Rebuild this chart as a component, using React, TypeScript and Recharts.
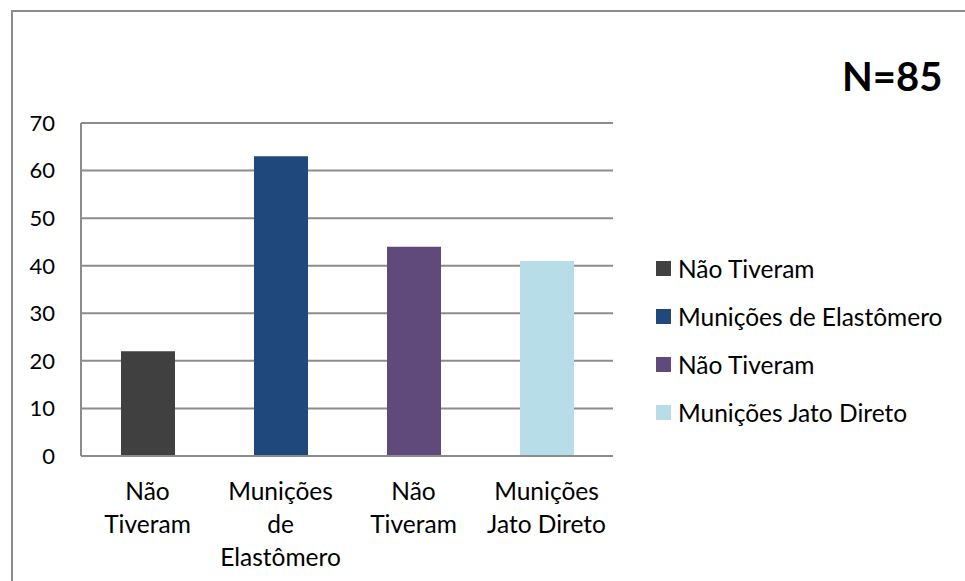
import React from "react";
import { BarChart, Bar, XAxis, YAxis, CartesianGrid, Legend, Cell } from "recharts";

const categories = ["Não Tiveram", "Munições de Elastômero", "Não Tiveram", "Munições Jato Direto"];
const values = [22, 63, 44, 41];
const barColors = ["#404040", "#1F497D", "#604A7B", "#B7DEE8"];
// wrapped x tick labels, one list of lines per category
const tickLines = [["Não", "Tiveram"], ["Munições", "de", "Elastômero"], ["Não", "Tiveram"], ["Munições", "Jato Direto"]];
const yTicks = [0, 10, 20, 30, 40, 50, 60, 70];
const title = "N=85";

const data = categories.map((name, i) => ({ name, value: values[i] }));

const FONT = "Lato, 'Noto Sans', sans-serif";
const GRID = "#8c8c8c";

const XTick = (props: any) => {
  const { x, y, payload } = props;
  const lines = tickLines[payload.index] || [payload.value];
  return (
    <g transform={`translate(${x},${y})`}>
      {lines.map((l: string, i: number) => (
        <text key={i} x={0} y={44 + i * 33} textAnchor="middle" fill="#000" fontSize={24.5} fontFamily={FONT}>
          {l}
        </text>
      ))}
    </g>
  );
};

const LegendBox = () => (
  <div style={{ fontFamily: FONT, fontSize: 24.5, color: "#000" }}>
    {categories.map((c, i) => (
      <div key={i} style={{ display: "flex", alignItems: "center", height: 48 }}>
        <span style={{ width: 15, height: 15, background: barColors[i], marginRight: 7, display: "inline-block" }} />
        <span>{c}</span>
      </div>
    ))}
  </div>
);

export default function App() {
  return (
    <div style={{ position: "absolute", left: 0, top: 0, width: 965, height: 581, background: "#fff", overflow: "hidden" }}>
      <div
        style={{
          position: "absolute",
          left: 11,
          top: 10,
          width: 960,
          height: 600,
          borderTop: `2px solid ${GRID}`,
          borderLeft: `2px solid ${GRID}`,
        }}
      />
      <div
        style={{
          position: "absolute",
          left: 842,
          top: 52,
          fontFamily: FONT,
          fontWeight: 700,
          fontSize: 40,
          lineHeight: "48px",
          color: "#000",
        }}
      >
        {title}
      </div>
      <BarChart
        width={965}
        height={581}
        data={data}
        margin={{ top: 123, right: 352, bottom: 0, left: 0 }}
        barSize={54}
        style={{ position: "absolute", left: 0, top: 0 }}
      >
        <CartesianGrid vertical={false} stroke={GRID} strokeWidth={2} />
        <XAxis
          dataKey="name"
          height={125}
          tickLine={false}
          tickSize={0}
          tickMargin={0}
          axisLine={{ stroke: GRID, strokeWidth: 2 }}
          tick={<XTick />}
          interval={0}
        />
        <YAxis
          width={81}
          domain={[0, 70]}
          ticks={yTicks}
          tickLine={false}
          tickSize={0}
          tickMargin={26}
          axisLine={{ stroke: GRID, strokeWidth: 2 }}
          tick={{ fill: "#000", fontSize: 22, fontFamily: FONT }}
        />
        <Legend
          layout="vertical"
          align="center"
          verticalAlign="middle"
          content={<LegendBox />}
          wrapperStyle={{ left: 656, top: 244, width: 300 }}
        />
        <Bar dataKey="value" isAnimationActive={false}>
          {data.map((d, i) => (
            <Cell key={i} fill={barColors[i]} />
          ))}
        </Bar>
      </BarChart>
    </div>
  );
}
